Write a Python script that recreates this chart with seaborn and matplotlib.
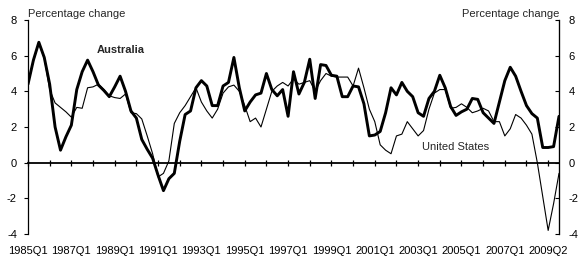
import numpy as np
import pandas as pd
import matplotlib
matplotlib.use("Agg")
import matplotlib.pyplot as plt
import seaborn as sns

# Year-ended GDP growth, quarterly 1985Q1 onwards
australia = [4.4, 5.75, 6.75, 5.9, 4.4, 2.0, 0.7, 1.45, 2.1, 4.1,
             5.1, 5.75, 5.1, 4.35, 4.05, 3.7, 4.25, 4.85, 4.0, 2.9,
             2.5, 1.3, 0.75, 0.25, -0.7, -1.57, -0.9, -0.6, 1.2, 2.7,
             2.9, 4.2, 4.6, 4.3, 3.2, 3.2, 4.3, 4.5, 5.9, 4.2,
             2.9, 3.4, 3.8, 3.9, 5.0, 4.1, 3.75, 4.1, 2.6, 5.1,
             3.85, 4.5, 5.8, 3.6, 5.5, 5.45, 4.9, 4.85, 3.7, 3.7,
             4.3, 4.25, 3.3, 1.5, 1.55, 1.75, 2.8, 4.2, 3.8, 4.5,
             4.0, 3.7, 2.8, 2.6, 3.6, 4.0, 4.9, 4.2, 3.15, 2.65,
             2.85, 3.0, 3.6, 3.55, 2.8, 2.5, 2.2, 3.4, 4.6, 5.35,
             4.85, 4.0, 3.2, 2.75, 2.5, 0.85, 0.85, 0.9, 2.6]
united_states = [4.4, 5.7, 6.7, 5.85, 4.1, 3.35, 3.1, 2.85, 2.55, 3.1,
                 3.05, 4.2, 4.25, 4.4, 4.1, 3.75, 3.65, 3.6, 3.85, 2.8,
                 2.75, 2.45, 1.5, 0.5, -0.8, -0.6, 0.1, 2.2, 2.8, 3.2,
                 3.7, 4.2, 3.4, 2.9, 2.5, 3.0, 3.9, 4.25, 4.35, 4.0,
                 3.2, 2.3, 2.5, 2.0, 3.0, 4.0, 4.3, 4.5, 4.3, 4.7,
                 4.4, 4.5, 4.6, 4.0, 4.6, 5.0, 4.85, 4.8, 4.8, 4.8,
                 4.3, 5.3, 4.2, 3.0, 2.3, 1.0, 0.7, 0.5, 1.5, 1.6,
                 2.3, 1.9, 1.5, 1.8, 3.0, 3.9, 4.1, 4.1, 3.05, 3.1,
                 3.3, 3.1, 2.8, 2.9, 3.05, 2.9, 2.3, 2.3, 1.5, 1.9,
                 2.7, 2.5, 2.1, 1.6, 0.0, -1.9, -3.8, -2.3, -0.6]
tick_labels = ["1985Q1", "1987Q1", "1989Q1", "1991Q1", "1993Q1", "1995Q1",
               "1997Q1", "1999Q1", "2001Q1", "2003Q1", "2005Q1", "2007Q1",
               "2009Q2"]
y_ticks = [-4, -2, 0, 2, 4, 6, 8]

sns.set_style("white")
plt.rcParams['font.family'] = ['Liberation Sans', 'DejaVu Sans']

n = len(australia)
df = pd.DataFrame({"q": np.arange(n),
                   "Australia": australia,
                   "United States": united_states})

W, H = 586, 265
fig = plt.figure(figsize=(W / 100, H / 100), dpi=100)
ax = fig.add_axes([28 / W, 1 - 234 / H, 531 / W, 214 / H])

sns.lineplot(data=df, x="q", y="United States", ax=ax, color="black", lw=0.8)
sns.lineplot(data=df, x="q", y="Australia", ax=ax, color="black", lw=2.1)

ax.set_xlim(0, n - 1)
ax.set_ylim(-4, 8)
ax.set_xlabel("")
ax.set_ylabel("")

# y axes
ax.set_yticks(y_ticks)
ax.set_yticklabels([str(v) for v in y_ticks])
ax.tick_params(axis="y", direction="out", length=3, width=0.8, pad=5,
               labelsize=8, colors="black", left=True)
ax2 = ax.twinx()
ax2.set_ylim(-4, 8)
ax2.set_yticks(y_ticks)
ax2.set_yticklabels([str(v) for v in y_ticks])
ax2.tick_params(axis="y", direction="in", length=3, width=0.8, pad=7,
                labelsize=8, colors="black", right=True)

for a in (ax, ax2):
    a.spines["top"].set_visible(False)
    a.spines["bottom"].set_visible(False)
    a.grid(False)
ax.spines["left"].set_color("black")
ax.spines["left"].set_linewidth(0.9)
ax2.spines["right"].set_color("black")
ax2.spines["right"].set_linewidth(0.9)
ax2.spines["left"].set_visible(False)

# x labels at the bottom
label_pos = list(range(0, 97, 8))
ax.set_xticks(label_pos)
ax.set_xticklabels(tick_labels)
ax.tick_params(axis="x", length=0, pad=9, labelsize=8, colors="black")

# zero line with year ticks
zero_frac = (0 - (-4)) / 12
sec = ax.secondary_xaxis(zero_frac)
sec.set_xticks(list(range(0, 97, 4)))
sec.set_xticklabels([])
sec.tick_params(axis="x", direction="inout", length=5, width=0.9, colors="black")
sec.spines["bottom"].set_color("black")
sec.spines["bottom"].set_linewidth(1.3)

# annotations
ax.text(0, 1.005, "Percentage change", transform=ax.transAxes, ha="left",
        va="bottom", fontsize=8)
ax.text(1, 1.005, "Percentage change", transform=ax.transAxes, ha="right",
        va="bottom", fontsize=8)
ax.text(12.7, 6.3, "Australia", fontsize=8, fontweight="bold", va="center", ha="left")
ax.text(72.7, 0.9, "United States", fontsize=8, va="center", ha="left")

fig.savefig("out.png", dpi=100)
